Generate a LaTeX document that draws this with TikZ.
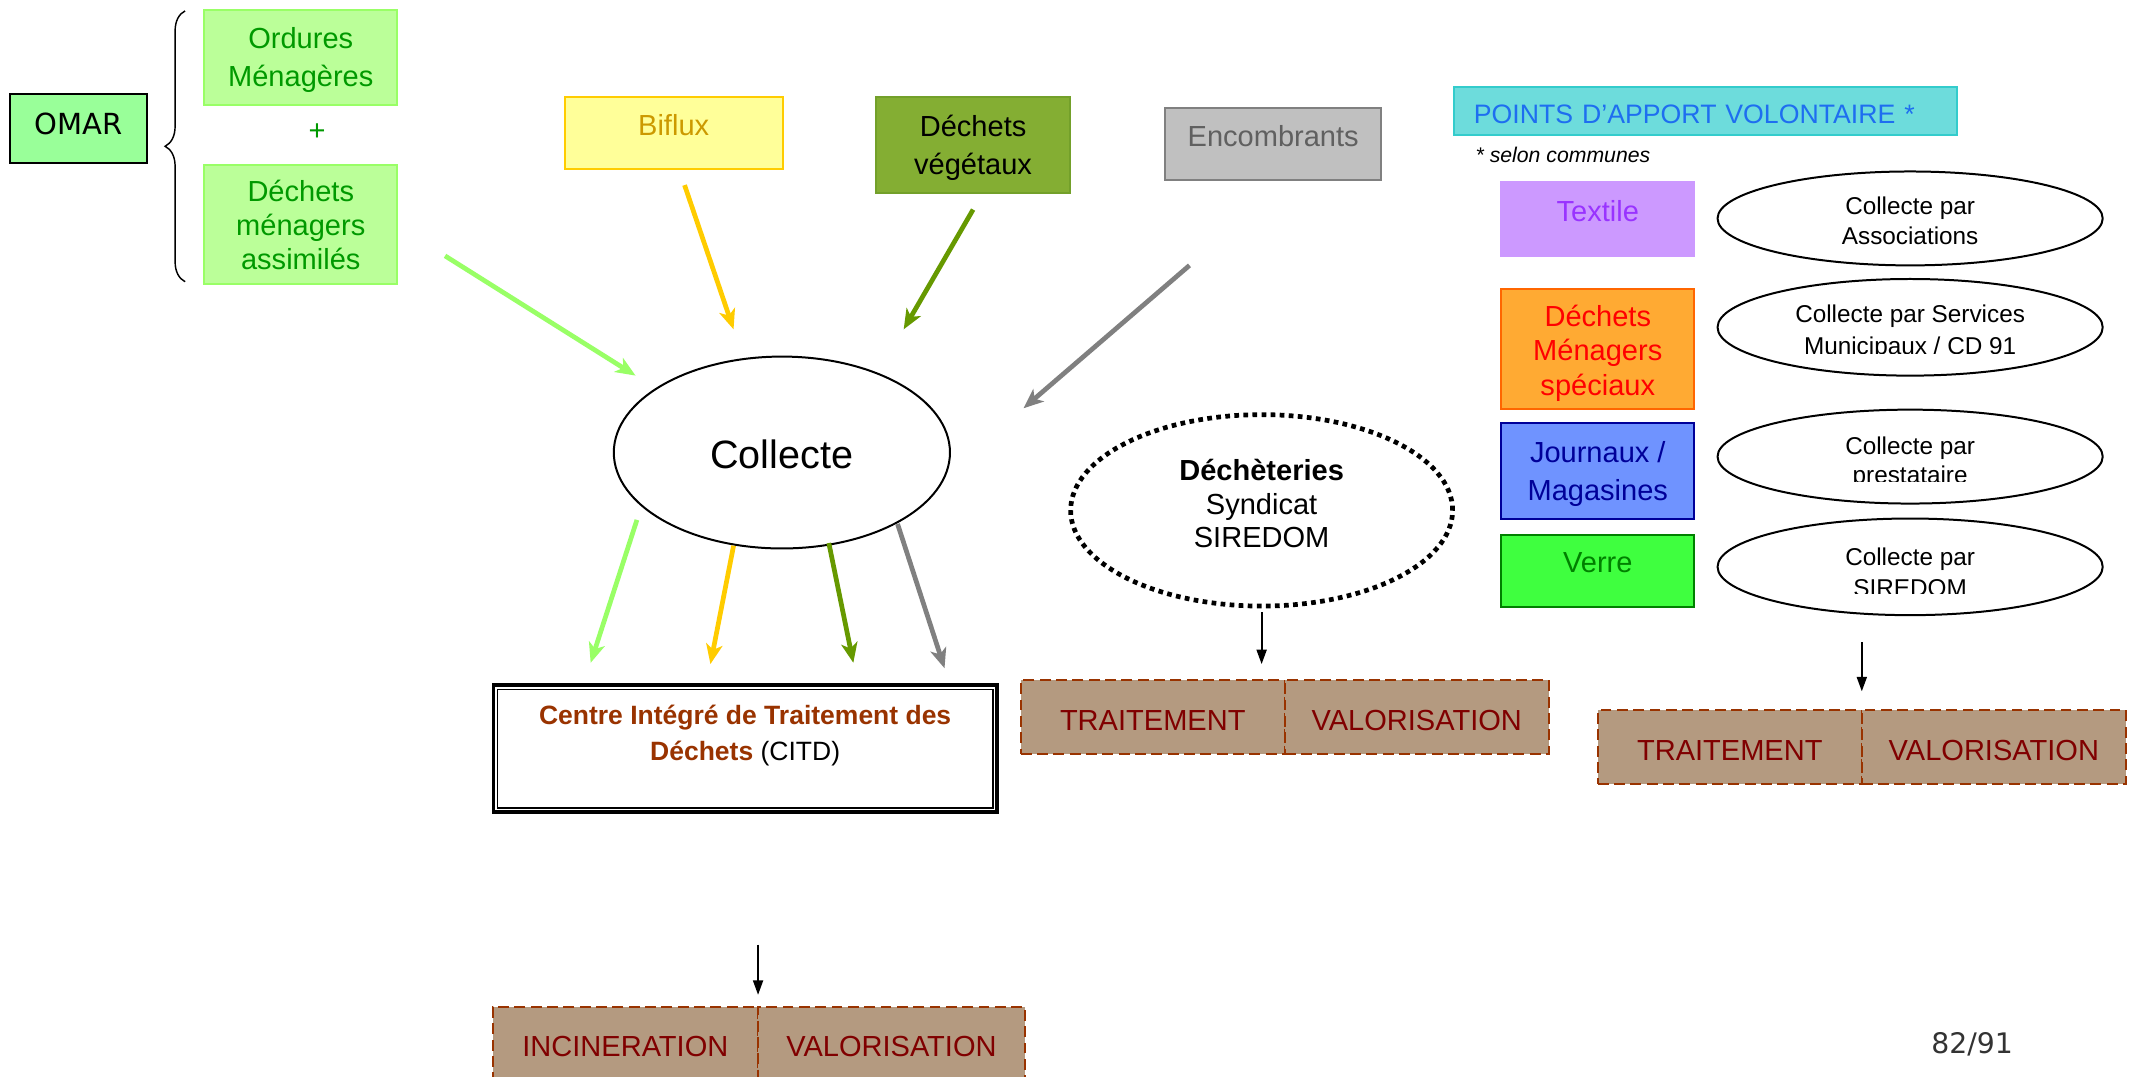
\documentclass[tikz,border=0pt]{standalone}
\usepackage{fontspec}
\setmainfont{Liberation Sans}
\newfontfamily\djv{DejaVu Sans}
\usetikzlibrary{arrows.meta,shapes.geometric,decorations.pathreplacing}
\definecolor{omarfill}{HTML}{99FF99}
\definecolor{omfill}{HTML}{BBFF99}
\definecolor{omdraw}{HTML}{99FF66}
\definecolor{omtext}{HTML}{009900}
\definecolor{bifill}{HTML}{FFFF99}
\definecolor{bidraw}{HTML}{FFCC00}
\definecolor{bitext}{HTML}{CC9900}
\definecolor{vegfill}{HTML}{84AE33}
\definecolor{vegdraw}{HTML}{73A02A}
\definecolor{encfill}{HTML}{C0C0C0}
\definecolor{encdraw}{HTML}{808080}
\definecolor{enctext}{HTML}{606060}
\definecolor{pavfill}{HTML}{6DDCDC}
\definecolor{pavdraw}{HTML}{33CCCC}
\definecolor{pavtext}{HTML}{1E6EF0}
\definecolor{texfill}{HTML}{CC99FF}
\definecolor{textext}{HTML}{9933FF}
\definecolor{dmsfill}{HTML}{FFAA33}
\definecolor{dmsdraw}{HTML}{FF6600}
\definecolor{dmstext}{HTML}{FF0000}
\definecolor{jourfill}{HTML}{6F93FF}
\definecolor{jourdraw}{HTML}{000099}
\definecolor{verfill}{HTML}{3FFF3F}
\definecolor{verdraw}{HTML}{008000}
\definecolor{brfill}{HTML}{B49A80}
\definecolor{brdraw}{HTML}{993300}
\definecolor{brtext}{HTML}{800000}
\definecolor{citdtext}{HTML}{993300}
\definecolor{arlgreen}{HTML}{99FF66}
\definecolor{aryellow}{HTML}{FFCC00}
\definecolor{arolive}{HTML}{669900}
\definecolor{argray}{HTML}{808080}
\definecolor{pagegray}{HTML}{333333}
\begin{document}
\begin{tikzpicture}[x=0.75pt,y=-0.75pt,
  cbox/.style={rectangle, line width=1.1pt, inner sep=0pt, align=center,
    minimum width=106.5pt, font=\fontsize{16}{19}\selectfont},
  btext/.style={inner sep=0pt, align=center, font=\fontsize{16}{19}\selectfont},
  ell/.style={ellipse, draw, line width=1.1pt, inner sep=0pt,
    minimum width=212.25pt},
  etext/.style={inner sep=0pt, align=center, font=\fontsize{13.4}{17}\selectfont},
  brbox/.style={rectangle, draw=brdraw, fill=brfill, line width=1.1pt,
    dash pattern=on 6pt off 3pt, inner sep=0pt, text=brtext, text height=14.6pt,
    minimum width=145.5pt, minimum height=40.5pt, font=\fontsize{16}{19}\selectfont},
  flow/.style={line width=2.6pt, -{Stealth[length=11pt,width=9pt,inset=3pt]}},
  blackarrow/.style={line width=1.1pt, -{Triangle[length=8pt,width=5.5pt]}}
]
\useasboundingbox (0,0) rectangle (1568,791);
\clip (0,0) rectangle (1568,791);
\fill[white] (0,0) rectangle (1568,791);

% OMAR group
\node[cbox, draw=black, fill=omarfill, minimum width=75.75pt, minimum height=38.25pt,
  text depth=5pt, font=\djv\fontsize{16}{19}\selectfont] (omar) at (57.5,94.5) {OMAR};
\coordinate (brb) at (136,207);
\coordinate (brt) at (136,8);
\draw[decorate, decoration={brace, amplitude=11pt}, line width=0.8pt] (brb) -- (brt);
\node[cbox, draw=omdraw, fill=omfill, minimum height=52.5pt] (om) at (221,42) {};
\node[btext, text=omtext, font=\fontsize{16}{21}\selectfont] (omt) at (221,44) {Ordures\\Ménagères};
\node[text=omtext, inner sep=0pt, font=\fontsize{16}{19}\selectfont] (plus) at (233,97) {+};
\node[cbox, draw=omdraw, fill=omfill, minimum height=66pt] (dma) at (221,165) {};
\node[btext, text=omtext, font=\fontsize{16}{18.75}\selectfont] (dmat) at (221,165.5) {Déchets\\ménagers\\assimilés};

% top sources
\node[cbox, draw=bidraw, fill=bifill, text=bitext, minimum width=120pt,
  minimum height=39.75pt, text depth=8pt] (biflux) at (495,97.5) {Biflux};
\node[cbox, draw=vegdraw, fill=vegfill, minimum height=53.25pt] (veg) at (715,106.5) {};
\node[btext, text=black, font=\fontsize{16}{21}\selectfont] (vegt) at (715,108.5) {Déchets\\végétaux};
\node[cbox, draw=encdraw, fill=encfill, text=enctext, minimum width=119.25pt,
  minimum height=39.75pt, text depth=8pt] (enc) at (935.5,105.5) {Encombrants};

% Collecte
\node[ellipse, draw, line width=1.1pt, inner sep=0pt, minimum width=185.25pt,
  minimum height=105.75pt, font=\fontsize{21.8}{26}\selectfont, text height=18pt] (collecte) at (574.5,332.5) {Collecte};

% incoming arrows
\coordinate (i1s) at (327,188); \coordinate (i1e) at (467,276);
\coordinate (i2s) at (503,136); \coordinate (i2e) at (539,242);
\coordinate (i3s) at (715,154); \coordinate (i3e) at (664,242);
\coordinate (i4s) at (874,195); \coordinate (i4e) at (752,300);
\draw[flow, arlgreen] (i1s) -- (i1e);
\draw[flow, aryellow] (i2s) -- (i2e);
\draw[flow, arolive] (i3s) -- (i3e);
\draw[flow, argray] (i4s) -- (i4e);
% outgoing arrows
\coordinate (o1s) at (468,382); \coordinate (o1e) at (434,487);
\coordinate (o2s) at (539,401); \coordinate (o2e) at (522,488);
\coordinate (o3s) at (609,399); \coordinate (o3e) at (627,487);
\coordinate (o4s) at (659.5,385); \coordinate (o4e) at (694,491);
\draw[flow, arlgreen] (o1s) -- (o1e);
\draw[flow, aryellow] (o2s) -- (o2e);
\draw[flow, arolive] (o3s) -- (o3e);
\draw[flow, argray] (o4s) -- (o4e);

% CITD
\node[rectangle, draw, line width=2pt, fill=white, minimum width=277.5pt,
  minimum height=69.75pt, inner sep=0pt] (citd) at (547.5,550) {};
\draw[line width=0.8pt] ([shift={(3.2pt,-3.2pt)}]citd.north west) rectangle ([shift={(-3.2pt,3.2pt)}]citd.south east);
\node[inner sep=0pt, align=center, font=\fontsize{14.6}{20}\selectfont] (citdt) at (547.5,540.5)
  {\textcolor{citdtext}{\textbf{Centre Intégré de Traitement des}}\\\textcolor{citdtext}{\textbf{Déchets}} (CITD)};
\coordinate (c1s) at (557,694); \coordinate (c1e) at (557,731);
\draw[blackarrow] (c1s) -- (c1e);
\node[brbox, minimum width=146.25pt, minimum height=40.5pt] (inc) at (459.5,767) {INCINERATION};
\node[brbox, minimum width=147pt, minimum height=40.5pt] (val1) at (655,767) {VALORISATION};

% Decheteries
\node[ellipse, draw, line width=2.6pt, dash pattern=on 2.6pt off 2.4pt, inner sep=0pt,
  minimum width=210.5pt, minimum height=105.5pt] (dech) at (927,375) {};
\node[inner sep=0pt, align=center, font=\fontsize{16}{18.4}\selectfont] (decht) at (927,370)
  {\textbf{Déchèteries}\\Syndicat\\SIREDOM};
\coordinate (d1s) at (927,450); \coordinate (d1e) at (927,488);
\draw[blackarrow] (d1s) -- (d1e);
\node[brbox] (trt2) at (847,527) {TRAITEMENT};
\node[brbox] (val2) at (1041,527) {VALORISATION};

% Points d'apport volontaire
\node[rectangle, draw=pavdraw, fill=pavfill, line width=1.1pt, text=pavtext,
  font=\fontsize{14.7}{17}\selectfont, text width=255pt, align=left, text height=13.5pt,
  inner xsep=11.25pt, inner ysep=0pt, minimum height=26.25pt] (pav) at (1253,81.5)
  {POINTS D’APPORT VOLONTAIRE *};
\node[anchor=west, inner sep=0pt, font=\itshape\fontsize{11.7}{14}\selectfont] (selon) at (1084,114) {* selon communes};

\node[cbox, draw=texfill, fill=texfill, text=textext, minimum height=40.5pt,
  text depth=9pt] (textile) at (1174,161) {Textile};
\node[cbox, draw=dmsdraw, fill=dmsfill, minimum height=66pt] (dms) at (1174,256.5) {};
\node[btext, text=dmstext, font=\fontsize{16}{19}\selectfont] (dmst) at (1174,259.5) {Déchets\\Ménagers\\spéciaux};
\node[cbox, draw=jourdraw, fill=jourfill, minimum height=52.5pt] (jour) at (1174,346) {};
\node[btext, text=jourdraw, font=\fontsize{16}{21}\selectfont] (jourt) at (1174,348.5) {Journaux /\\Magasines};
\node[cbox, draw=verdraw, fill=verfill, text=verdraw, minimum height=39.75pt,
  text depth=9.5pt] (verre) at (1174,419.5) {Verre};

\node[ell, minimum height=51.75pt] (e1) at (1403.5,160.5) {};
\node[ell, minimum height=53.25pt] (e2) at (1403.5,240.5) {};
\node[ell, minimum height=51.75pt] (e3) at (1403.5,335.5) {};
\node[ell, minimum height=53.25pt] (e4) at (1403.5,416.5) {};
\node[etext, font=\fontsize{13.4}{16.5}\selectfont] (e1t) at (1403.5,162) {Collecte par\\Associations};
\begin{scope}
\clip (1262,200) rectangle (1546,260);
\node[etext, font=\fontsize{13.4}{18}\selectfont] (e2t) at (1403.5,244) {Collecte par Services\\Municipaux / CD 91};
\end{scope}
\begin{scope}
\clip (1262,296) rectangle (1546,354);
\node[etext, font=\fontsize{13.4}{16.5}\selectfont] (e3t) at (1403.5,340) {Collecte par\\prestataire};
\end{scope}
\begin{scope}
\clip (1262,376) rectangle (1546,436);
\node[etext, font=\fontsize{13.4}{17.25}\selectfont] (e4t) at (1403.5,420.5) {Collecte par\\SIREDOM};
\end{scope}
\coordinate (p1s) at (1368,472); \coordinate (p1e) at (1368,508);
\draw[blackarrow] (p1s) -- (p1e);
\node[brbox] (trt3) at (1271,549) {TRAITEMENT};
\node[brbox] (val3) at (1465,549) {VALORISATION};

\node[inner sep=0pt, text=pagegray, font=\djv\fontsize{15.6}{18}\selectfont] (page) at (1449,767) {82/91};
\end{tikzpicture}
\end{document}
